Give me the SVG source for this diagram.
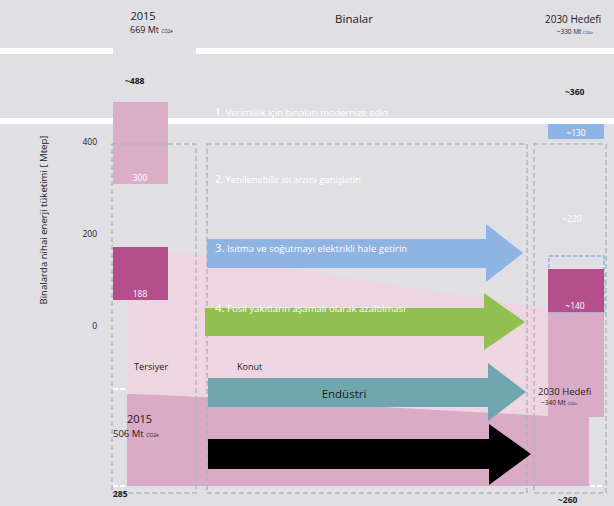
<svg xmlns="http://www.w3.org/2000/svg" width="614" height="506" viewBox="0 0 614 506">
<style>
text{font-family:"Open Sans","Liberation Sans",sans-serif;fill:#1a1a1a}
.w{fill:#ffffff}
.b{font-weight:bold}
.box{fill:none;stroke:#b5b5b5;stroke-width:1.5;stroke-dasharray:5 3}
.wd{stroke:#ffffff;stroke-width:2;stroke-dasharray:5 2}
</style>
<rect width="614" height="506" fill="#e0dfe4"/>
<g id="bands">
<rect x="0" y="48" width="113" height="6" fill="#fff"/>
<rect x="196" y="48" width="418" height="6" fill="#fff"/>
<rect x="0" y="118" width="614" height="6" fill="#fff"/>
</g>
<g id="flows">
<path d="M127,252 C170,252 190,254 200,255 L527,305 L548,309 L548,416 L200,397 C160,395 140,394 127,394 Z" fill="#edd6e2"/>
<path d="M127,394 C140,394 160,395 200,397 L548,416 L548,312 L604,312 L604,417 L589,417 L589,486 L127,486 Z" fill="#d9abc6"/>
</g>
<g id="bar-2015-top"><rect x="113" y="102" width="55" height="82" fill="#dbaec8"/><text class="w" x="140" y="181" font-size="8.5" text-anchor="middle">300</text></g>
<g id="bar-2015-mid"><rect x="113" y="247" width="55" height="53" fill="#b54f8c"/><text class="w" x="140" y="297" font-size="8.5" text-anchor="middle">188</text></g>
<g id="bar-2030-top"><rect x="548" y="124" width="56" height="15" fill="#8db4e2"/><text class="w" x="576" y="136" font-size="8.5" text-anchor="middle">~130</text></g>
<g id="bar-2030-mid"><rect x="549" y="256" width="55" height="56" fill="none" stroke="#8db4e2" stroke-width="1.5" stroke-dasharray="4 2"/><rect x="548" y="269" width="56" height="43" fill="#b54f8c"/><text class="w" x="575" y="309" font-size="8.5" text-anchor="middle">~140</text></g>
<g id="boxes">
<rect class="box" x="112" y="144" width="84" height="349"/>
<rect class="box" x="207" y="144" width="320" height="349"/>
<rect class="box" x="534" y="144" width="72" height="349"/>
<line class="wd" x1="113" y1="389" x2="126" y2="389"/>
<line class="wd" x1="113" y1="486" x2="126" y2="486"/>
<line class="wd" x1="590" y1="486" x2="604" y2="486"/>
</g>
<g id="connectors">
<polygon points="207,239 486,239 486,224 523,253 486,282 486,268 207,268" fill="#8db4e2"/>
<polygon points="205,308 484,308 484,293 525,322 484,350 484,336 205,336" fill="#92c050"/>
<polygon points="208,378 488,378 488,363 526,392 488,421 488,407 208,407" fill="#70a7ae"/>
<polygon points="208,439 489,439 489,424 531,454 489,485 489,469 208,469" fill="#000"/>
</g>
<g id="labels">
<text x="143" y="20" font-size="11" text-anchor="middle">2015</text>
<text x="130" y="33" font-size="9">669 Mt <tspan font-size="4.5">CO2e</tspan></text>
<text x="354" y="23" font-size="11.5" text-anchor="middle">Binalar</text>
<text x="573" y="23" font-size="10" text-anchor="middle">2030 Hedefi</text>
<text x="575" y="34" font-size="6.5" text-anchor="middle">~330 Mt <tspan font-size="4">CO2e</tspan></text>
<text class="b" x="125" y="84" font-size="8.5">~488</text>
<text class="b" x="565" y="95" font-size="8.5">~360</text>
<text class="w" x="215" y="116" font-size="9.3"><tspan font-size="10">1.</tspan> Verimlilik için binaları modernize edin</text>
<text class="w" x="215" y="183" font-size="9.3"><tspan font-size="10">2.</tspan> Yenilenebilir ısı arzını genişletin</text>
<text class="w" x="215" y="252" font-size="9.5"><tspan font-size="11.5">3.</tspan> Isıtma ve soğutmayı elektrikli hale getirin</text>
<text class="w" x="215" y="312" font-size="9.5"><tspan font-size="11.5">4.</tspan> Fosil yakıtların aşamalı olarak azaltılması</text>
<text class="w" x="572" y="222" font-size="8.5" text-anchor="middle">~220</text>
<text x="97" y="145" font-size="8.5" text-anchor="end">400</text>
<text x="97" y="237" font-size="8.5" text-anchor="end">200</text>
<text x="97" y="329" font-size="8.5" text-anchor="end">0</text>
<text x="0" y="0" font-size="9.6" text-anchor="middle" transform="translate(47,220) rotate(-90)">Binalarda nihai enerji tüketimi [ Mtep]</text>
<text x="134" y="370" font-size="9.2">Tersiyer</text>
<text x="237" y="370" font-size="9">Konut</text>
<text x="344" y="398" font-size="11.5" text-anchor="middle">Endüstri</text>
<text x="127" y="423" font-size="11">2015</text>
<text x="113" y="437" font-size="9.5">506 Mt <tspan font-size="5">CO2e</tspan></text>
<text class="b" x="113" y="497" font-size="8.5">285</text>
<text x="538" y="395" font-size="9.5">2030 Hedefi</text>
<text x="541" y="405" font-size="6.5">~340 Mt <tspan font-size="4">CO2e</tspan></text>
<text class="b" x="558" y="503" font-size="8.5">~260</text>
</g>
</svg>
